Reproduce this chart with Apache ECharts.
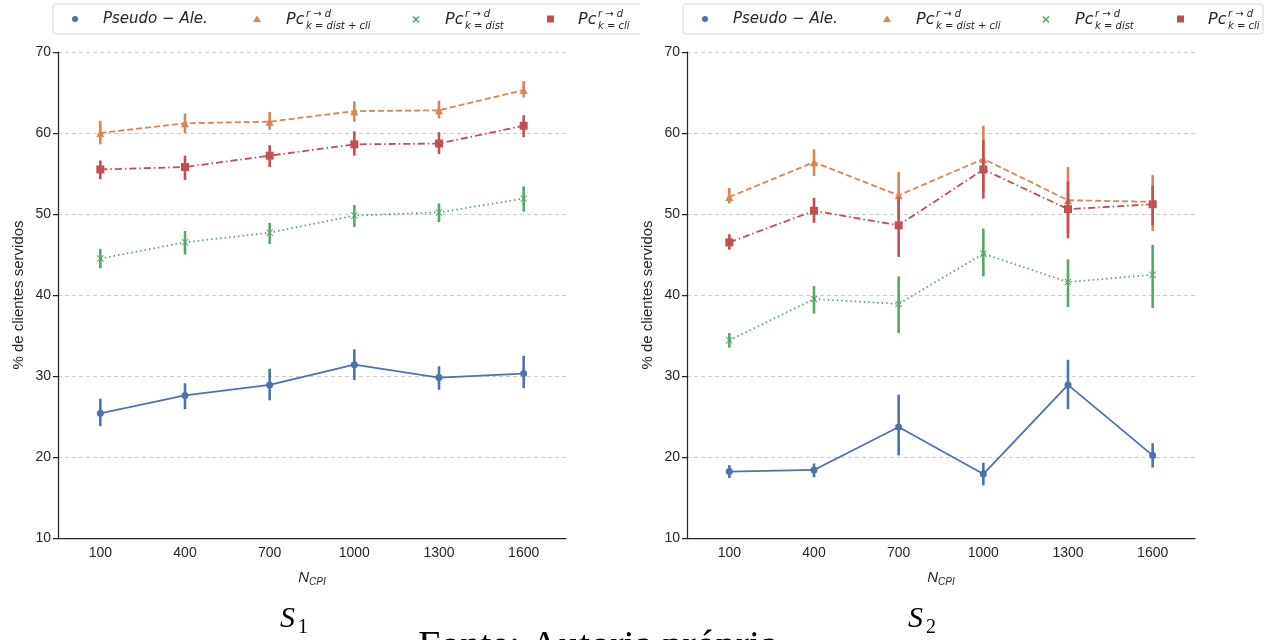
<!DOCTYPE html>
<html>
<head>
<meta charset="utf-8">
<script src="https://cdn.jsdelivr.net/npm/echarts@6/dist/echarts.min.js"></script>
<style>
  html, body { margin: 0; padding: 0; background: #fff; }
  #grafico { width: 1272px; height: 640px; }
</style>
</head>
<body>
<div id="grafico"></div>
<script>
// dados
const rotulosX = ['100', '400', '700', '1000', '1300', '1600'];

// S1
const s1Pseudo   = [25.4, 27.6, 28.9, 31.4, 29.8, 30.3];
const s1PseudoLo = [23.8, 25.9, 27.0, 29.5, 28.3, 28.5];
const s1PseudoHi = [27.2, 29.1, 30.9, 33.3, 31.2, 32.5];
const s1DistCli   = [60.0, 61.2, 61.4, 62.7, 62.8, 65.3];
const s1DistCliLo = [58.6, 60.0, 60.4, 61.4, 61.8, 64.4];
const s1DistCliHi = [61.5, 62.4, 62.6, 63.9, 64.0, 66.4];
const s1Dist   = [44.5, 46.5, 47.7, 49.8, 50.2, 51.9];
const s1DistLo = [43.3, 45.0, 46.3, 48.4, 49.0, 50.3];
const s1DistHi = [45.7, 47.9, 48.9, 51.1, 51.3, 53.4];
const s1Cli   = [55.5, 55.8, 57.2, 58.6, 58.7, 60.9];
const s1CliLo = [54.3, 54.2, 55.8, 57.2, 57.4, 59.5];
const s1CliHi = [56.6, 57.2, 58.5, 60.2, 60.1, 62.2];

// S2
const s2Pseudo   = [18.2, 18.4, 23.7, 17.9, 28.9, 20.2];
const s2PseudoLo = [17.4, 17.5, 20.2, 16.5, 25.9, 18.7];
const s2PseudoHi = [19.0, 19.2, 27.7, 19.3, 32.0, 21.7];
const s2DistCli   = [52.1, 56.4, 52.3, 56.8, 51.7, 51.5];
const s2DistCliLo = [51.3, 54.7, 49.4, 52.7, 47.6, 47.9];
const s2DistCliHi = [53.2, 58.0, 55.2, 60.9, 55.8, 54.8];
const s2Dist   = [34.4, 39.5, 38.9, 45.1, 41.6, 42.5];
const s2DistLo = [33.5, 37.7, 35.3, 42.3, 38.5, 38.4];
const s2DistHi = [35.3, 41.1, 42.3, 48.2, 44.4, 46.2];
const s2Cli   = [46.5, 50.4, 48.6, 55.5, 50.6, 51.2];
const s2CliLo = [45.6, 48.9, 44.7, 51.9, 47.0, 48.6];
const s2CliHi = [47.5, 52.0, 52.1, 59.1, 54.0, 53.5];

const azul = '#4c72b0', laranja = '#dd8452', verde = '#55a868', vermelho = '#c44e52';
const corTexto = '#262626';
const simboloX = 'path://M1,0L5,4L9,0L10,1L6,5L10,9L9,10L5,6L1,10L0,9L4,5L0,1Z';

// estilos das linhas (pointplot)
const tipos = [
    {cor: azul, simbolo: 'circle', tam: 7, tipo: 'solid'},
    {cor: laranja, simbolo: 'triangle', tam: 8, tipo: [6, 3]},
    {cor: verde, simbolo: simboloX, tam: 7, tipo: [1.5, 3]},
    {cor: vermelho, simbolo: 'rect', tam: 8, tipo: [7, 3, 1.5, 3]}
];

function serieLinha(idx, valores, t) {
    return {
        type: 'line',
        xAxisIndex: idx,
        yAxisIndex: idx,
        data: valores,
        symbol: t.simbolo,
        symbolSize: t.tam,
        itemStyle: {color: t.cor},
        lineStyle: {color: t.cor, width: 1.8, type: t.tipo},
        z: 3,
        animation: false
    };
}

function serieErro(idx, lo, hi, t) {
    let dados = lo.map((v, i) => [i, v, hi[i]]);
    return {
        type: 'custom',
        xAxisIndex: idx,
        yAxisIndex: idx,
        data: dados,
        encode: {x: 0, y: [1, 2]},
        z: 4,
        animation: false,
        renderItem: (params, api) => {
            let a = api.coord([api.value(0), api.value(1)]);
            let b = api.coord([api.value(0), api.value(2)]);
            return {
                type: 'line',
                shape: {x1: a[0], y1: a[1], x2: b[0], y2: b[1]},
                style: {stroke: t.cor, lineWidth: 2.6}
            };
        }
    };
}

function eixoX(idx) {
    return {
        type: 'category',
        gridIndex: idx,
        data: rotulosX,
        boundaryGap: true,
        name: '{n|N}{s|CPI}',
        nameLocation: 'middle',
        nameGap: 30,
        nameTextStyle: {
            rich: {
                n: {fontFamily: 'Liberation Sans', fontStyle: 'italic', fontSize: 15, color: corTexto},
                s: {fontFamily: 'Liberation Sans', fontStyle: 'italic', fontSize: 10, color: corTexto, padding: [9, 0, 0, 0]}
            }
        },
        axisLine: {lineStyle: {color: corTexto, width: 1.25}},
        axisTick: {alignWithLabel: true, length: 5, lineStyle: {color: corTexto, width: 1.25}},
        axisLabel: {color: corTexto, fontFamily: 'Liberation Sans', fontSize: 14, margin: 8},
        splitLine: {show: false}
    };
}

function eixoY(idx) {
    return {
        type: 'value',
        gridIndex: idx,
        min: 10,
        max: 70,
        interval: 10,
        name: '% de clientes servidos',
        nameLocation: 'middle',
        nameGap: 32,
        nameTextStyle: {color: corTexto, fontFamily: 'Liberation Sans', fontSize: 15},
        axisLine: {show: true, lineStyle: {color: corTexto, width: 1.25}},
        axisTick: {show: true, length: 5, lineStyle: {color: corTexto, width: 1.25}},
        axisLabel: {color: corTexto, fontFamily: 'Liberation Sans', fontSize: 14, margin: 7},
        splitLine: {lineStyle: {color: '#cccccc', type: [4, 3], width: 1}}
    };
}

// legenda desenhada a mao (textos com sobrescrito / subscrito)
function legenda(dx, larguraCaixa) {
    let fonte = 'DejaVu Sans';
    let el = [];
    el.push({
        type: 'rect',
        shape: {x: 53 + dx, y: 4, width: larguraCaixa, height: 30, r: 3},
        style: {fill: '#fff', stroke: '#d5d5d5', lineWidth: 1},
        z: 10
    });
    el.push({type: 'circle', shape: {cx: 75 + dx, cy: 19, r: 3}, style: {fill: azul}, z: 11});
    el.push({
        type: 'text', x: 103 + dx, y: 19, z: 11,
        style: {text: 'Pseudo − Ale.', fontFamily: fonte, fontStyle: 'italic', fontSize: 15, fill: corTexto, verticalAlign: 'middle'}
    });
    el.push({type: 'polygon', shape: {points: [[257 + dx, 15.5], [261 + dx, 22], [253 + dx, 22]]}, style: {fill: laranja}, z: 11});
    el.push({type: 'line', shape: {x1: 413 + dx, y1: 16.5, x2: 419 + dx, y2: 22.5}, style: {stroke: verde, lineWidth: 1.6}, z: 11});
    el.push({type: 'line', shape: {x1: 419 + dx, y1: 16.5, x2: 413 + dx, y2: 22.5}, style: {stroke: verde, lineWidth: 1.6}, z: 11});
    el.push({type: 'rect', shape: {x: 547 + dx, y: 15.5, width: 7, height: 7}, style: {fill: vermelho}, z: 11});

    let subs = ['k = dist + cli', 'k = dist', 'k = cli'];
    let xs = [286, 445, 578];
    xs.forEach((x, i) => {
        el.push({
            type: 'text', x: x + dx, y: 20, z: 11,
            style: {text: 'Pc', fontFamily: fonte, fontStyle: 'italic', fontSize: 16, fill: corTexto, verticalAlign: 'middle'}
        });
        el.push({
            type: 'text', x: x + 20 + dx, y: 14, z: 11,
            style: {text: 'r → d', fontFamily: fonte, fontStyle: 'italic', fontSize: 10, fill: corTexto, verticalAlign: 'middle'}
        });
        el.push({
            type: 'text', x: x + 20 + dx, y: 26, z: 11,
            style: {text: subs[i], fontFamily: fonte, fontStyle: 'italic', fontSize: 10, fill: corTexto, verticalAlign: 'middle'}
        });
    });
    return el;
}

let grafico = document.getElementById('grafico');
let myChart = echarts.init(grafico, null, {renderer: 'canvas'});

let series = [];
let conjuntos = [
    [[s1Pseudo, s1PseudoLo, s1PseudoHi], [s1DistCli, s1DistCliLo, s1DistCliHi], [s1Dist, s1DistLo, s1DistHi], [s1Cli, s1CliLo, s1CliHi]],
    [[s2Pseudo, s2PseudoLo, s2PseudoHi], [s2DistCli, s2DistCliLo, s2DistCliHi], [s2Dist, s2DistLo, s2DistHi], [s2Cli, s2CliLo, s2CliHi]]
];
conjuntos.forEach((conj, idx) => {
    conj.forEach((d, k) => {
        series.push(serieLinha(idx, d[0], tipos[k]));
        series.push(serieErro(idx, d[1], d[2], tipos[k]));
    });
});

let elementos = [].concat(legenda(0, 600), legenda(630, 580));
// recorte da legenda esquerda
elementos.push({type: 'rect', shape: {x: 640, y: 0, width: 42, height: 40}, style: {fill: '#fff'}, z: 12});
elementos.push({
    type: 'text', x: 280, y: 604, z: 11,
    style: {text: 'S', fontFamily: 'Liberation Serif', fontStyle: 'italic', fontSize: 30, fill: '#000'}
});
elementos.push({
    type: 'text', x: 298, y: 618, z: 11,
    style: {text: '1', fontFamily: 'Liberation Serif', fontSize: 20, fill: '#000'}
});
elementos.push({
    type: 'text', x: 908, y: 604, z: 11,
    style: {text: 'S', fontFamily: 'Liberation Serif', fontStyle: 'italic', fontSize: 30, fill: '#000'}
});
elementos.push({
    type: 'text', x: 926, y: 618, z: 11,
    style: {text: '2', fontFamily: 'Liberation Serif', fontSize: 20, fill: '#000'}
});
elementos.push({
    type: 'text', x: 418, y: 627, z: 11,
    style: {text: 'Fonte: Autoria própria', fontFamily: 'Liberation Serif', fontSize: 40, fill: '#000'}
});

let option = {
    backgroundColor: '#fff',
    animation: false,
    grid: [
        {left: 58, right: 706, top: 52, bottom: 102},
        {left: 687, right: 77, top: 52, bottom: 102}
    ],
    xAxis: [eixoX(0), eixoX(1)],
    yAxis: [eixoY(0), eixoY(1)],
    series: series,
    graphic: {elements: elementos}
};

myChart.setOption(option);
</script>
</body>
</html>
